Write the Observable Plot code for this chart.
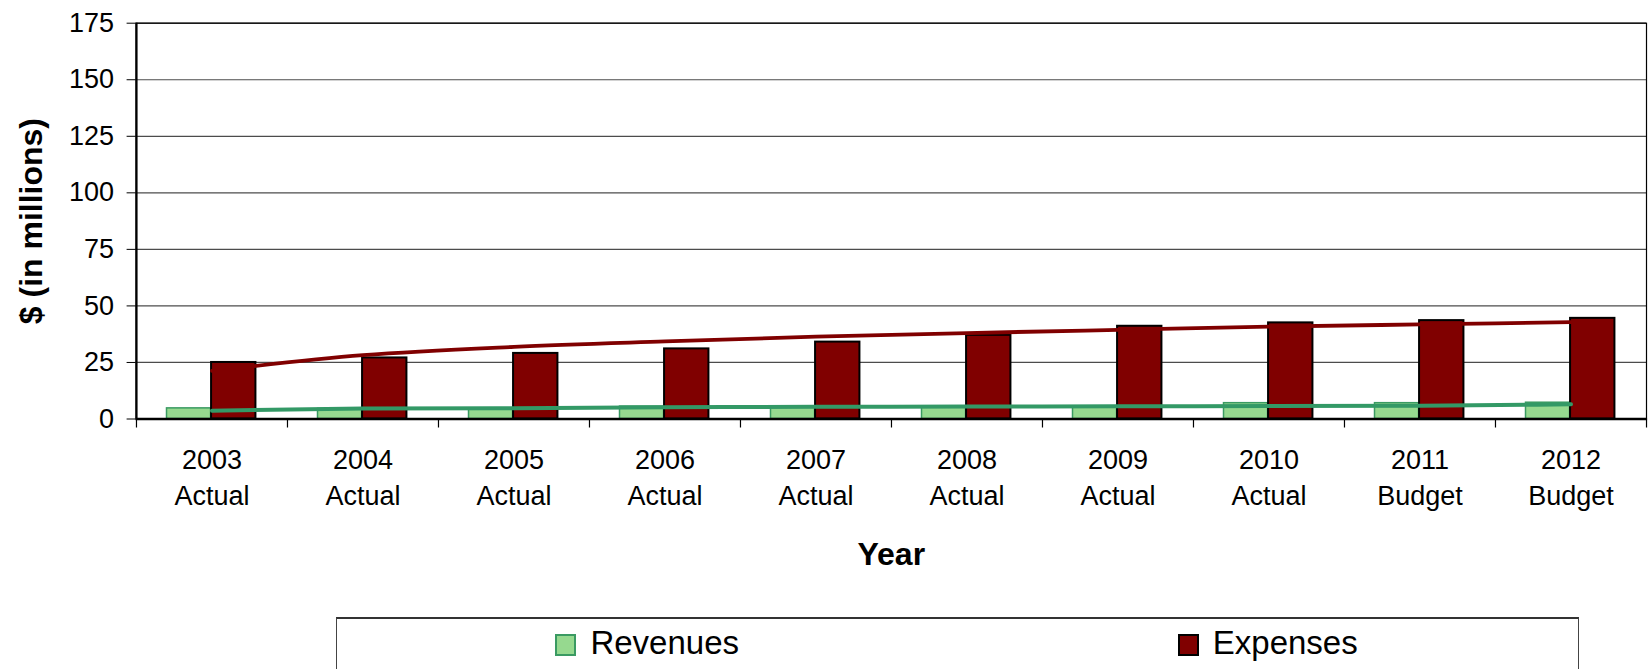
<!DOCTYPE html>
<html><head><meta charset="utf-8">
<script src="https://cdn.jsdelivr.net/npm/d3@7"></script>
<script src="https://cdn.jsdelivr.net/npm/@observablehq/plot@0.6"></script>
<style>
html,body{margin:0;padding:0;background:#fff;overflow:hidden;width:1648px;height:669px;}
body{font-family:"Liberation Sans",Arial,sans-serif;position:relative;}
#chart{position:absolute;left:0;top:0;}
#legend{position:absolute;left:336px;top:617px;width:1243px;height:80px;border:1px solid #444;border-top:2px solid #333;display:flex;box-sizing:border-box;}
.item{flex:1;display:flex;justify-content:center;align-items:flex-start;padding-top:7px;font-size:33px;line-height:33px;color:#000;}
.sw{width:17px;height:18px;margin-top:8px;margin-right:14px;box-sizing:content-box;}
</style>
</head><body>
<div id="chart"></div>
<div id="legend"></div>
<script>
// ---- data ----
const years = ["2003","2004","2005","2006","2007","2008","2009","2010","2011","2012"];
const statuses = ["Actual","Actual","Actual","Actual","Actual","Actual","Actual","Actual","Budget","Budget"];
const revenues = [4.7, 4.5, 4.5, 5.5, 5.5, 5.5, 5.5, 7.0, 7.0, 7.2];
const expenses = [25, 27, 29, 31, 34, 37, 41, 42.5, 43.5, 44.5];
const revenueTrend = [3.7, 4.6, 4.8, 5.2, 5.4, 5.5, 5.6, 5.7, 5.9, 6.5];
const expenseTrend = [21.3, 28.2, 31.9, 34.3, 36.4, 38.0, 39.4, 40.8, 41.8, 42.8];
const yTicks = [0, 25, 50, 75, 100, 125, 150, 175];
const seriesNames = ["Revenues", "Expenses"];
const seriesColors = ["#96d98f", "#800000"];

const rows = years.map((year, i) => ({
  year, label: `${year}\n${statuses[i]}`,
  revenue: revenues[i], expense: expenses[i],
  revenueTrend: revenueTrend[i], expenseTrend: expenseTrend[i]
}));

// ---- layout ----
const W = 1648, H = 600;
const mL = 135.6, mR = 2, mT = 22.7, mB = H - 418.5;
const step = (W - mL - mR) / years.length;
const plotH = H - mT - mB;

const chart = Plot.plot({
  width: W, height: H,
  marginLeft: mL, marginRight: mR, marginTop: mT, marginBottom: mB,
  style: {fontFamily: '"Liberation Sans", Arial, sans-serif', fontSize: "27px", color: "#000", background: "#fff"},
  x: {type: "band", domain: years, padding: 0, axis: null},
  y: {domain: [0, 175], axis: null},
  marks: [
    Plot.gridY(yTicks, {stroke: "#000", strokeOpacity: 0.7, strokeWidth: 1.2}),
    Plot.barY(rows, {x: "year", y: "revenue", fill: seriesColors[0], stroke: "#3a9a62", strokeWidth: 1.5,
      insetLeft: step * 0.202, insetRight: step * 0.506}),
    Plot.barY(rows, {x: "year", y: "expense", fill: seriesColors[1], stroke: "#000", strokeWidth: 2,
      insetLeft: step * 0.497, insetRight: step * 0.209}),
    Plot.line(rows, {x: "year", y: "expenseTrend", stroke: "#800000", strokeWidth: 3.8, curve: "monotone-x"}),
    Plot.line(rows, {x: "year", y: "revenueTrend", stroke: "#339966", strokeWidth: 4, curve: "monotone-x"}),
    Plot.frame({stroke: "#000", strokeWidth: 1.2}),
    Plot.ruleY([0], {stroke: "#000", strokeWidth: 2.5}),
    Plot.ruleX(rows, {x: "year", dx: -step / 2, stroke: "#000", strokeWidth: 1.2, insetTop: plotH, insetBottom: -9}),
    Plot.ruleX(rows.slice(-1), {x: "year", dx: step / 2, stroke: "#000", strokeWidth: 1.2, insetTop: plotH, insetBottom: -9}),
    Plot.ruleX(rows.slice(0, 1), {x: "year", dx: -step / 2, stroke: "#000", strokeWidth: 2.2}),
    Plot.axisY(yTicks, {tickSize: 9, tickPadding: 13, stroke: "#000", fontSize: 27}),
    Plot.text(rows, {x: "year", text: "label", frameAnchor: "bottom", lineAnchor: "top", dy: 24.9, lineHeight: 1.333, fontSize: 27, fill: "#000"}),
    Plot.text(["Year"], {frameAnchor: "bottom", dy: 145.6, fontSize: 32, fontWeight: "bold", fill: "#000"}),
    Plot.text(["$ (in millions)"], {frameAnchor: "left", textAnchor: "middle", dx: -104, rotate: -90, fontSize: 32, fontWeight: "bold", fill: "#000"})
  ]
});
document.getElementById("chart").appendChild(chart);

// ---- legend ----
const legend = document.getElementById("legend");
const swStroke = ["#3a9a62", "#000"];
seriesNames.forEach((name, i) => {
  const item = document.createElement("div");
  item.className = "item";
  const sw = document.createElement("div");
  sw.className = "sw";
  sw.style.background = seriesColors[i];
  sw.style.border = `2px solid ${swStroke[i]}`;
  const t = document.createElement("span");
  t.textContent = name;
  item.appendChild(sw); item.appendChild(t);
  legend.appendChild(item);
});
</script>
</body></html>
